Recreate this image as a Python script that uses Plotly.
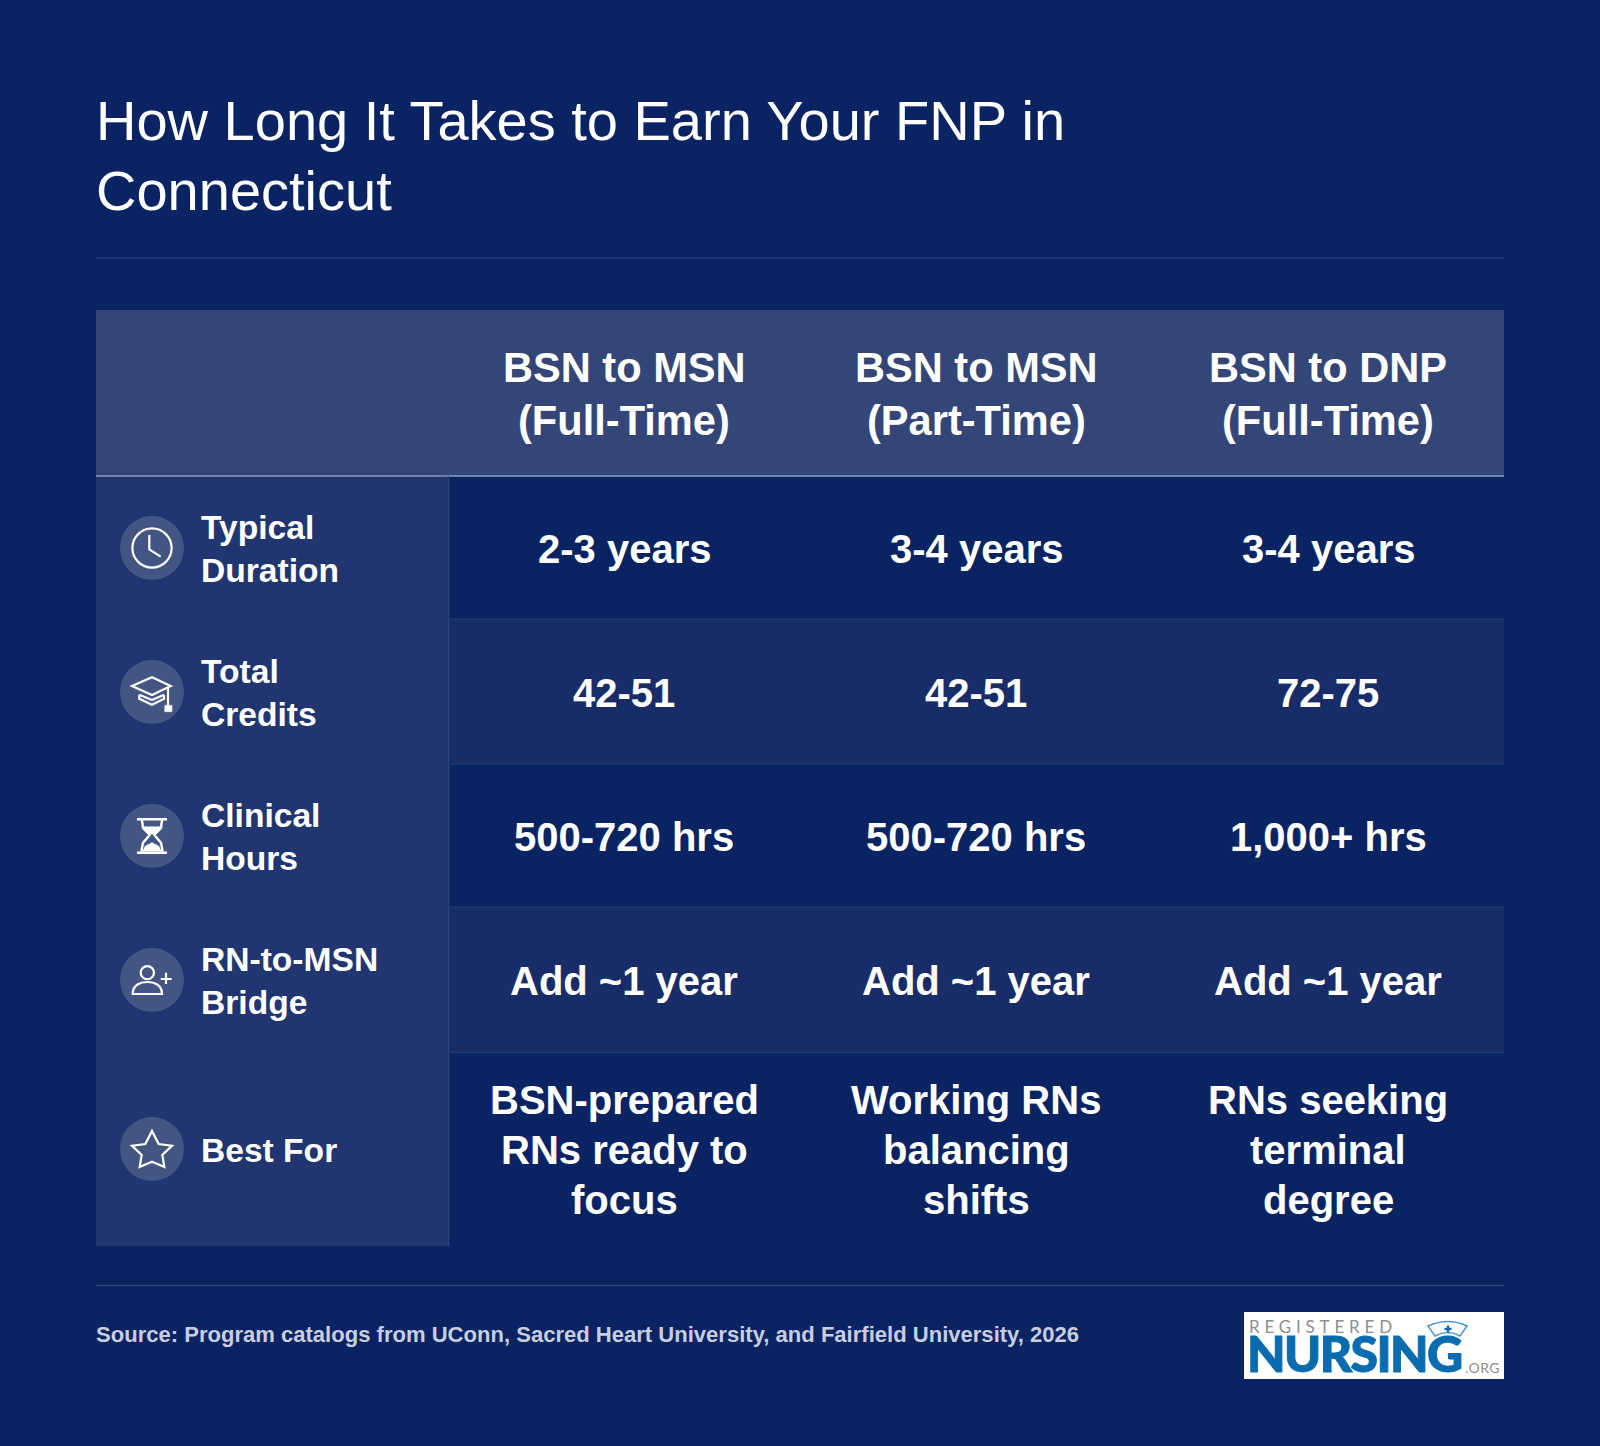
import plotly.graph_objects as go

# ---- content ----
title_lines = ["How Long It Takes to Earn Your FNP in", "Connecticut"]
columns = ["BSN to MSN<br>(Full-Time)", "BSN to MSN<br>(Part-Time)", "BSN to DNP<br>(Full-Time)"]
row_labels = ["Typical<br>Duration", "Total<br>Credits", "Clinical<br>Hours", "RN-to-MSN<br>Bridge", "Best For"]
typical_duration = ["2-3 years", "3-4 years", "3-4 years"]
total_credits = ["42-51", "42-51", "72-75"]
clinical_hours = ["500-720 hrs", "500-720 hrs", "1,000+ hrs"]
bridge = ["Add ~1 year", "Add ~1 year", "Add ~1 year"]
best_for = ["BSN-prepared<br>RNs ready to<br>focus", "Working RNs<br>balancing<br>shifts", "RNs seeking<br>terminal<br>degree"]
source = "Source: Program catalogs from UConn, Sacred Heart University, and Fairfield University, 2026"
rows = [typical_duration, total_credits, clinical_hours, bridge, best_for]

# ---- layout geometry ----
W, H = 1600, 1446
L, R = 96, 1504
COL_X = 448.5
COL_C = [624, 976, 1328]
HEAD_T, HEAD_B = 310, 476
ROW_Y = [476, 619, 764, 907, 1052.5, 1246]
ICON_X = 152
ICON_Y = [548, 692, 836, 980, 1149]
BG, HEAD, SIDE, ALT = "#0a2362", "#344677", "#213670", "#182d68"
FONT = "Liberation Sans"
shapes, ann = [], []

def rect(x0, y0, x1, y1, fill):
    shapes.append(dict(type="rect", x0=x0, y0=y0, x1=x1, y1=y1, fillcolor=fill, line_width=0, layer="below"))

def line(x0, y0, x1, y1, color, w, layer="below"):
    shapes.append(dict(type="line", x0=x0, y0=y0, x1=x1, y1=y1, line=dict(color=color, width=w), layer=layer))

def text(x, y, s, size, color="#ffffff", weight=700, anchor="center", family=FONT):
    ann.append(dict(x=x, y=y, text=s, xref="x", yref="y", showarrow=False, xanchor=anchor, yanchor="middle",
                    align="left" if anchor == "left" else "center",
                    font=dict(family=family, size=size, color=color, weight=weight)))

def stack(x, yc, s, size, lh, **kw):
    parts = s.split("<br>")
    for i, p in enumerate(parts):
        text(x, yc + (i - (len(parts) - 1) / 2) * lh, p, size, **kw)

def path(cx, cy, d, stroke="#ffffff", fill="rgba(0,0,0,0)", w=2.2):
    # d: list of sub-paths; each is (points, closed); points in 1/3 px around the icon centre
    out = ""
    for pts, closed in d:
        out += "M" + " L".join(f"{cx + a / 3:.1f},{cy + b / 3:.1f}" for a, b in pts) + (" Z " if closed else " ")
    shapes.append(dict(type="path", path=out, line=dict(color=stroke, width=w), fillcolor=fill, layer="above"))

def circle(cx, cy, r, stroke=None, fill="rgba(0,0,0,0)", w=2.2):
    shapes.append(dict(type="circle", x0=cx - r, x1=cx + r, y0=cy - r, y1=cy + r, fillcolor=fill,
                       line=dict(color=stroke or "rgba(0,0,0,0)", width=w if stroke else 0), layer="above"))

# ---- panels ----
rect(L, HEAD_T, R, HEAD_B, HEAD)
rect(L, HEAD_B, COL_X, ROW_Y[-1], SIDE)
for i in (1, 3):
    rect(COL_X, ROW_Y[i], R, ROW_Y[i + 1], ALT)
line(L, 258, R, 258, "#223a74", 1.5)
line(L, 1285.5, R, 1285.5, "#2f4378", 1.5)
line(L, HEAD_B, R, HEAD_B, "#7582a8", 2)
line(COL_X, HEAD_B, COL_X, ROW_Y[-1], "#2f4379", 1.5)
for y in ROW_Y[1:-1]:
    line(COL_X, y, R, y, "#203672", 1.5)
    line(L, y, COL_X, y, "#223771", 1)

# ---- text ----
stack(L - 2, 155.5, "<br>".join(title_lines), 56, 70, weight=400, anchor="left")
for c, s in zip(COL_C, columns):
    stack(c, 394, s, 41.6, 53)
for i, lab in enumerate(row_labels):
    stack(198.5, ICON_Y[i] + 1, lab, 33.6, 43.3, anchor="left")
    for c, v in zip(COL_C, rows[i]):
        stack(c, ICON_Y[i] + 1 if i < 4 else 1150, v, 40, 50)
text(L - 2, 1334, source, 22.05, color="#c6cee0", anchor="left")

# ---- icons ----
for y in ICON_Y:
    circle(ICON_X, y, 32, fill="#435582")
# clock
circle(ICON_X, ICON_Y[0], 19.6, stroke="#ffffff")
path(ICON_X, ICON_Y[0], [([(-8, -39), (-8, 4), (26, 26)], False)])
# graduation cap
y = ICON_Y[1]
path(ICON_X, y, [([(-60, -18), (0, -44), (56, -18), (0, 9)], True),
                 ([(-38, 8), (-38, 20), (0, 38), (36, 20), (36, 8)], False),
                 ([(-38, 8), (0, 24), (36, 8)], False),
                 ([(48, -14), (48, 40)], False)])
path(ICON_X, y, [([(38, 40), (60, 40), (60, 59), (38, 59)], True)], fill="#ffffff", w=0.5)
# hourglass
y = ICON_Y[2]
path(ICON_X, y, [([(-45, -50), (45, -50)], False), ([(-45, 50), (45, 50)], False)], w=2.6)
path(ICON_X, y, [([(-30, -48), (-27, -24), (-7, -3), (-27, 20), (-32, 47)], False),
                 ([(30, -48), (27, -24), (7, -3), (27, 20), (32, 47)], False)], w=2.4)
path(ICON_X, y, [([(-27, -28), (27, -28), (7, -6), (-7, -6)], True),
                 ([(-28, 46), (-20, 30), (0, 20), (20, 30), (28, 46)], True)], fill="#ffffff", w=0.5)
# person plus
y = ICON_Y[3]
circle(ICON_X - 14 / 3, y - 22 / 3, 6.6, stroke="#ffffff")
cx, cy = ICON_X, y
shapes.append(dict(type="path", line=dict(color="#ffffff", width=2.2), fillcolor="rgba(0,0,0,0)", layer="above",
                   path=f"M{cx - 58 / 3:.1f},{cy + 42 / 3:.1f} C{cx - 58 / 3:.1f},{cy + 14 / 3:.1f} {cx - 34 / 3:.1f},{cy + 6 / 3:.1f} {cx - 14 / 3:.1f},{cy + 6 / 3:.1f} "
                        f"C{cx + 6 / 3:.1f},{cy + 6 / 3:.1f} {cx + 30 / 3:.1f},{cy + 14 / 3:.1f} {cx + 30 / 3:.1f},{cy + 42 / 3:.1f} Z"))
path(ICON_X, y, [([(42, -22), (42, 12)], False), ([(26, -3), (59, -3)], False)])
# star
path(ICON_X, ICON_Y[4], [([(0, -54), (20, -15), (60, -10), (31, 18), (37, 54), (0, 38), (-37, 54), (-31, 18), (-60, -10), (-20, -15)], True)])

# ---- logo ----
rect(1244, 1312, 1504, 1379, "#ffffff")
text(1247, 1326, "REGISTERED", 17, color="#8d8d8d", weight=400, anchor="left", family="Lato")
text(1245, 1353, "NURSING", 50, color="#0a6cb0", weight=900, anchor="left", family="Lato")
text(1462.5, 1367, ".ORG", 14, color="#8f8f8f", weight=400, anchor="left", family="Lato")
shapes.append(dict(type="path", line=dict(color="#4a9ad0", width=1.5), fillcolor="#ffffff", layer="above",
                   path="M1428,1326 Q1448,1317 1467,1326 L1460,1336 Q1448,1329 1435,1336 Z"))
line(1448, 1325.5, 1448, 1332.5, "#0a6cb0", 2.4, layer="above")
line(1444.5, 1329, 1451.5, 1329, "#0a6cb0", 2.4, layer="above")

fig = go.Figure()
fig.update_layout(width=W, height=H, margin=dict(l=0, r=0, t=0, b=0), paper_bgcolor=BG, plot_bgcolor=BG,
                  xaxis=dict(range=[0, W], visible=False, fixedrange=True),
                  yaxis=dict(range=[H, 0], visible=False, fixedrange=True),
                  shapes=shapes, annotations=ann, showlegend=False)

post = """
document.body.style.margin='0';document.body.style.overflow='hidden';document.body.style.background='%s';
document.querySelectorAll('.annotation-text').forEach(function(t){
  if(t.textContent==='REGISTERED'){t.style.letterSpacing='4.8px';}
  if(t.textContent==='NURSING'){t.style.letterSpacing='-1.65px';t.style.stroke='#0a6cb0';t.style.strokeWidth='1px';}
  if(t.textContent==='.ORG'){t.style.letterSpacing='0.5px';}
});
""" % BG
fig.write_html("out.html", config=dict(displayModeBar=False, responsive=False), post_script=post)
